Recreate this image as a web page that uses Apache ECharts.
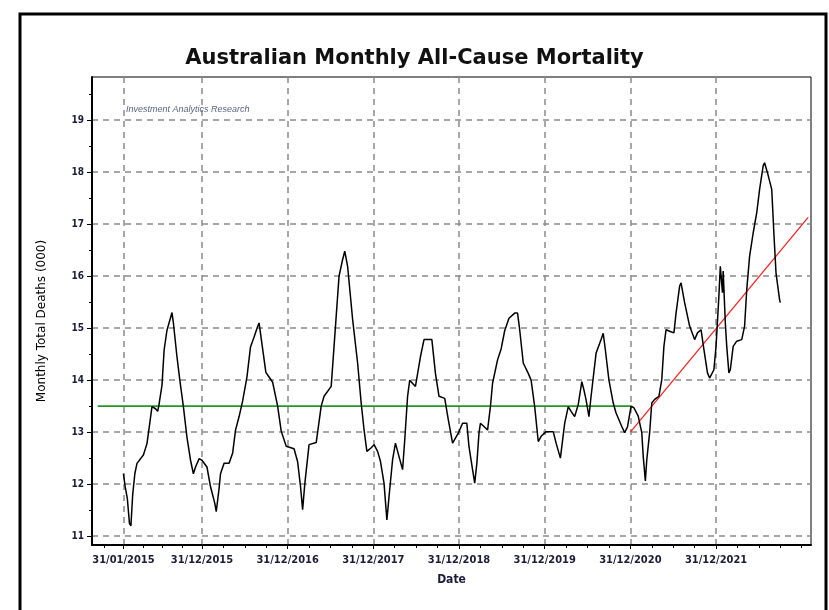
<!DOCTYPE html>
<html lang="en">

<head>
    <meta charset="UTF-8">
    <title>Australian Monthly All-Cause Mortality</title>
    <style>
        body {
            margin: 0;
            background-color: #ffffff;
        }

        #chart {
            width: 829px;
            height: 610px;
        }
    </style>
</head>

<body>
    <div id="chart"></div>
    <script src="https://cdn.jsdelivr.net/npm/echarts@6/dist/echarts.min.js"></script>
    <script>
        // x values are months counted from 31/01/2015 (0 = Jan 2015)
        const monthPos = [
            0, 0.25, 0.55, 0.85, 1.05, 1.3, 1.6, 1.9, 2.8, 3.3, 3.75, 4.0, 4.5, 4.8, 4.95, 5.4, 5.7, 6.1, 6.6, 6.8,
            7.0, 7.5, 7.9, 8.4, 8.9, 9.4, 9.8, 10.1, 10.6, 11.0, 11.7, 12.2, 12.8, 13.0, 13.4, 13.6, 14.1, 14.8, 15.3, 15.7,
            16.2, 16.7, 17.3, 17.8, 18.3, 18.8, 19.0, 19.2, 19.6, 19.95, 20.4, 20.9, 21.6, 22.1, 22.8, 23.9, 24.4, 24.8, 25.1, 25.4,
            26.0, 27.0, 27.7, 28.1, 29.1, 29.5, 30.2, 30.7, 31.0, 31.4, 32.1, 32.8, 33.3, 33.7, 34.1, 34.7, 35.1, 35.6, 36.0, 36.5,
            36.9, 37.2, 37.7, 38.1, 38.6, 39.1, 39.4, 39.8, 40.1, 40.9, 41.6, 42.1, 43.2, 43.7, 44.2, 45.0, 45.5, 46.1, 46.9, 47.5,
            48.1, 48.4, 48.9, 49.2, 49.5, 49.8, 50.0, 50.5, 51.0, 51.4, 51.7, 52.4, 52.9, 53.4, 54.0, 54.8, 55.2, 55.5, 56.0, 56.7,
            57.1, 57.6, 58.1, 58.5, 59.2, 60.2, 60.6, 61.2, 61.8, 62.3, 62.7, 63.2, 63.7, 64.2, 64.5, 64.8, 65.2, 65.5, 66.2, 66.9,
            67.2, 67.5, 68.0, 68.6, 69.0, 69.8, 70.2, 70.6, 71.1, 71.5, 72.1, 72.6, 72.8, 73.1, 73.3, 73.7, 74.0, 74.4, 75.0, 75.4,
            75.7, 76.0, 76.5, 77.1, 77.4, 77.9, 78.1, 78.6, 79.3, 80.0, 80.4, 80.9, 81.3, 81.8, 82.1, 82.7, 83.0, 83.4, 83.6, 83.8,
            83.9, 84.0, 84.3, 84.5, 84.8, 85.0, 85.4, 85.9, 86.6, 87.0, 87.3, 87.7, 88.2, 88.7, 89.1, 89.6, 89.8, 90.2, 90.8, 91.1,
            91.4, 91.6, 91.9, 92.0
        ];
        const deaths = [
            12.2, 11.95, 11.72, 11.24, 11.2, 11.8, 12.2, 12.4, 12.56, 12.78, 13.23, 13.49, 13.45, 13.4, 13.5, 13.9, 14.58, 14.96, 15.2, 15.3,
            15.1, 14.45, 14.0, 13.49, 12.9, 12.46, 12.2, 12.33, 12.49, 12.46, 12.33, 11.95, 11.63, 11.47, 11.92, 12.2, 12.4, 12.4, 12.6, 13.04,
            13.3, 13.6, 14.06, 14.64, 14.83, 15.03, 15.1, 14.9, 14.5, 14.15, 14.06, 13.96, 13.5, 13.02, 12.73, 12.68, 12.43, 11.96, 11.51, 12.0,
            12.76, 12.8, 13.5, 13.69, 13.88, 14.65, 16.0, 16.32, 16.48, 16.19, 15.17, 14.33, 13.56, 13.05, 12.63, 12.7, 12.76, 12.63, 12.44, 12.02,
            11.31, 11.76, 12.47, 12.79, 12.53, 12.28, 12.85, 13.69, 14.0, 13.88, 14.45, 14.78, 14.78, 14.13, 13.69, 13.65, 13.24, 12.79, 12.98, 13.17,
            13.17, 12.72, 12.28, 12.02, 12.4, 12.98, 13.17, 13.11, 13.04, 13.49, 13.94, 14.39, 14.6, 14.95, 15.19, 15.29, 15.29, 14.97, 14.33, 14.13,
            14.0, 13.49, 12.82, 12.92, 13.01, 13.01, 12.79, 12.5, 13.17, 13.49, 13.4, 13.3, 13.53, 13.97, 13.81, 13.62, 13.3, 13.69, 14.52, 14.78,
            14.9, 14.58, 14.0, 13.56, 13.37, 13.11, 12.99, 13.1, 13.5, 13.47, 13.31, 12.99, 12.54, 12.06, 12.47, 12.99, 13.56, 13.63, 13.69, 14.01,
            14.65, 14.97, 14.94, 14.91, 15.29, 15.81, 15.87, 15.49, 15.04, 14.78, 14.91, 14.97, 14.59, 14.14, 14.04, 14.2, 14.65, 15.62, 16.19, 16.16,
            15.68, 16.1, 15.1, 14.65, 14.14, 14.2, 14.65, 14.75, 14.78, 15.04, 15.74, 16.38, 16.83, 17.22, 17.67, 18.12, 18.18, 17.99, 17.67, 16.83,
            16.06, 16.06, 15.55, 15.49
        ];

        // pre-2021 average (green) and post-2020 trend (red)
        const avgX = [-3.6, 71.1];
        const avgY = [13.5, 13.5];
        const trendX = [71, 95.9];
        const trendY = [13.0, 17.13];

        const tickPos = [0, 11, 23, 35, 47, 59, 71, 83];
        const tickLabels = ['31/01/2015', '31/12/2015', '31/12/2016', '31/12/2017', '31/12/2018', '31/12/2019', '31/12/2020', '31/12/2021'];
        const minorPos = [-2.75, 2.75, 5.5, 8.25, 14, 17, 20, 26, 29, 32, 38, 41, 44, 50, 53, 56, 62, 65, 68, 74, 77, 80, 86, 89, 92, 95];
        const yTicks = [11, 12, 13, 14, 15, 16, 17, 18, 19];
        const yMinor = [11.5, 12.5, 13.5, 14.5, 15.5, 16.5, 17.5, 18.5, 19.5];

        const zip = (xs, ys) => xs.map((x, i) => [x, ys[i]]);

        const chart = echarts.init(document.getElementById('chart'));
        const gridColor = '#8a8a8a';
        const labelColor = '#1c1c38';

        chart.setOption({
            animation: false,
            title: [{
                text: 'Australian Monthly All-Cause Mortality',
                left: 'center',
                top: 43,
                textStyle: { fontFamily: 'DejaVu Sans', fontWeight: 'bold', fontSize: 21, color: '#111' }
            }, {
                text: 'Investment Analytics Research',
                left: 121,
                top: 100,
                textStyle: { fontFamily: 'Liberation Sans', fontStyle: 'italic', fontWeight: 'normal', fontSize: 9, color: '#5a6480' }
            }],
            graphic: [{
                type: 'rect',
                shape: { x: 20, y: 14, width: 806, height: 640 },
                style: { fill: 'none', stroke: '#000', lineWidth: 3 },
                silent: true
            }],
            grid: {
                left: 92, right: 18, top: 77, bottom: 65,
                show: true, borderColor: '#000', borderWidth: 1
            },
            xAxis: [{
                type: 'value',
                min: -4.4,
                max: 96.3,
                name: 'Date',
                nameLocation: 'middle',
                nameGap: 29,
                nameTextStyle: { fontFamily: 'DejaVu Sans Condensed', fontWeight: 'bold', fontSize: 12, color: labelColor },
                axisLine: { onZero: false, lineStyle: { color: '#000', width: 2 } },
                axisTick: { customValues: tickPos, length: 4, lineStyle: { color: '#000' } },
                axisLabel: {
                    customValues: tickPos,
                    formatter: v => tickLabels[tickPos.indexOf(v)] || '',
                    fontFamily: 'DejaVu Sans Condensed', fontWeight: 'bold', fontSize: 11, color: labelColor, margin: 10
                },
                splitLine: { show: true, lineStyle: { color: gridColor, type: [6, 5], width: 1.5 } }
            }, {
                type: 'value',
                min: -4.4,
                max: 96.3,
                position: 'bottom',
                axisLine: { show: false, onZero: false },
                axisTick: { customValues: minorPos, length: 3, lineStyle: { color: '#000' } },
                axisLabel: { show: false },
                splitLine: { show: false }
            }],
            yAxis: [{
                type: 'value',
                min: 10.83,
                max: 19.83,
                interval: 1,
                name: 'Monthly Total Deaths (000)',
                nameLocation: 'middle',
                nameGap: 44,
                nameTextStyle: { fontFamily: 'DejaVu Sans', fontSize: 12, color: '#000', padding: [0, 20, 0, 0] },
                axisLine: { show: true, onZero: false, lineStyle: { color: '#000', width: 2 } },
                axisTick: { show: true, length: 5, lineStyle: { color: '#000' }, customValues: yTicks },
                axisLabel: {
                    customValues: yTicks,
                    fontFamily: 'DejaVu Sans Condensed', fontSize: 10, fontWeight: 'bold', color: labelColor, margin: 8
                },
                splitLine: { show: true, lineStyle: { color: gridColor, type: [6, 5], width: 1.5 } }
            }, {
                type: 'value',
                min: 10.83,
                max: 19.83,
                position: 'left',
                axisLine: { show: false, onZero: false },
                axisTick: { show: true, length: 3, lineStyle: { color: '#000' }, customValues: yMinor },
                axisLabel: { show: false },
                splitLine: { show: false }
            }],
            series: [{
                type: 'line',
                data: zip(avgX, avgY),
                showSymbol: false,
                lineStyle: { color: '#1f9a1f', width: 1.6 },
                z: 3
            }, {
                type: 'line',
                data: zip(trendX, trendY),
                showSymbol: false,
                lineStyle: { color: '#ff1a1a', width: 1.2 },
                z: 4
            }, {
                type: 'line',
                data: zip(monthPos, deaths),
                showSymbol: false,
                lineStyle: { color: '#000', width: 1.5 },
                z: 5
            }]
        });
    </script>
</body>

</html>
